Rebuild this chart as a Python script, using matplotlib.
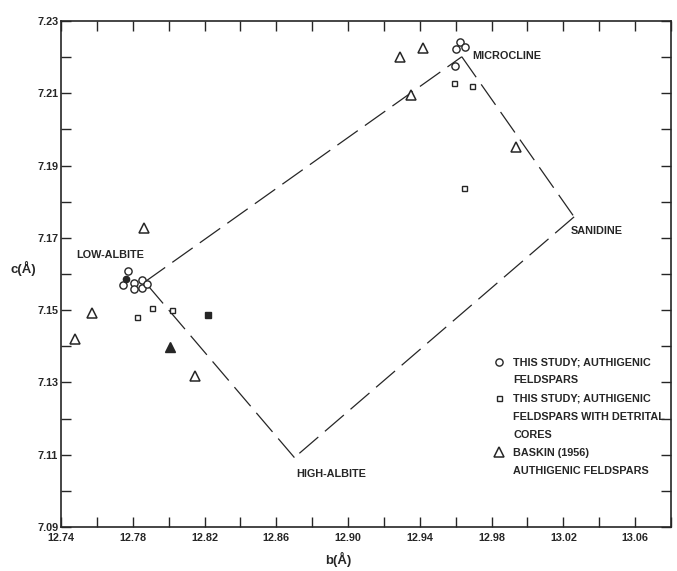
import matplotlib
matplotlib.use("Agg")
import matplotlib.pyplot as plt
from matplotlib.lines import Line2D
import numpy as np

plt.rcParams['font.family'] = ['Liberation Sans', 'DejaVu Sans']

# ---- data ----
# this study; authigenic feldspars (open circles)
circ_b = [12.7773, 12.7743, 12.7806, 12.7805, 12.7853, 12.7853, 12.7880,
          12.9626, 12.9602, 12.9652, 12.9597]
circ_c = [7.1607, 7.1570, 7.1575, 7.1559, 7.1583, 7.1560, 7.1571,
          7.2242, 7.2222, 7.2229, 7.2175]
# filled circle
fcirc_b = [12.7764]
fcirc_c = [7.1585]
# this study; authigenic feldspars with detrital cores (open squares)
sq_b = [12.7905, 12.8017, 12.7825, 12.9592, 12.9692, 12.9645]
sq_c = [7.1506, 7.1500, 7.1480, 7.2128, 7.2119, 7.1839]
# filled square
fsq_b = [12.8221]
fsq_c = [7.1487]
# Baskin (1956) authigenic feldspars (open triangles)
tri_b = [12.7864, 12.7571, 12.7479, 12.8149, 12.9292, 12.9416, 12.9350, 12.9935]
tri_c = [7.1728, 7.1492, 7.1420, 7.1319, 7.2200, 7.2226, 7.2096, 7.1951]
# filled triangle
ftri_b = [12.8005]
ftri_c = [7.1399]

# end-member quadrilateral: low-albite, microcline, sanidine, high-albite
rect_names = ['LOW-ALBITE', 'MICROCLINE', 'SANIDINE', 'HIGH-ALBITE']
rect_b = [12.7867, 12.9634, 13.0260, 12.8701]
rect_c = [7.1578, 7.2201, 7.1758, 7.1092]
# label anchors (left edge, centre line)
lab_b = [12.7485, 12.9695, 13.0243, 12.8711]
lab_c = [7.1653, 7.2203, 7.1718, 7.1046]

x_major = np.arange(12.74, 13.081, 0.04)
x_minor = np.arange(12.74, 13.081, 0.02)
y_major = np.arange(7.09, 7.2301, 0.02)
y_minor = np.arange(7.09, 7.2301, 0.01)

legend_groups = [['THIS STUDY; AUTHIGENIC', 'FELDSPARS'],
                 ['THIS STUDY; AUTHIGENIC', 'FELDSPARS WITH DETRITAL', 'CORES'],
                 ['BASKIN (1956)', 'AUTHIGENIC FELDSPARS']]

ink = '#262626'
fs = 7.8

fig = plt.figure(figsize=(6.77, 5.71), dpi=100)
ax = fig.add_axes([0.0901, 0.0771, 0.9010, 0.8862])
ax.set_xlim(12.74, 13.08)
ax.set_ylim(7.09, 7.23)

# quadrilateral (dashed), each side separately
nv = len(rect_b)
for i in range(nv):
    j = (i + 1) % nv
    ax.plot([rect_b[i], rect_b[j]], [rect_c[i], rect_c[j]],
            color=ink, lw=0.9, linestyle=(0, (20, 7)),
            dash_capstyle='butt', zorder=2)

h_c, = ax.plot(circ_b, circ_c, linestyle='none', marker='o', ms=5.2,
               mfc='white', mec=ink, mew=1.0, zorder=3)
ax.plot(fcirc_b, fcirc_c, linestyle='none', marker='o', ms=4.5,
        mfc=ink, mec=ink, zorder=4)
h_s, = ax.plot(sq_b, sq_c, linestyle='none', marker='s', ms=3.6,
               mfc='white', mec=ink, mew=1.0, zorder=3)
ax.plot(fsq_b, fsq_c, linestyle='none', marker='s', ms=4.2,
        mfc=ink, mec=ink, zorder=3)
h_t, = ax.plot(tri_b, tri_c, linestyle='none', marker='^', ms=7.0,
               mfc='white', mec=ink, mew=1.1, zorder=3)
ax.plot(ftri_b, ftri_c, linestyle='none', marker='^', ms=7.0,
        mfc=ink, mec=ink, zorder=3)

for name, b, c in zip(rect_names, lab_b, lab_c):
    ax.text(b, c, name, ha='left', va='center', fontsize=fs,
            fontweight='bold', color=ink)

# ticks
ax.set_xticks(x_major)
ax.set_xticklabels([f'{v:.2f}' for v in x_major])
ax.set_xticks(x_minor, minor=True)
ax.set_yticks(y_major)
ax.set_yticklabels([f'{v:.2f}' for v in y_major])
ax.set_yticks(y_minor, minor=True)
ax.tick_params(which='both', direction='in', top=True, right=True,
               length=7, width=1.0, color=ink)
ax.tick_params(axis='x', which='major', pad=4, labelsize=fs, labelcolor=ink)
ax.tick_params(axis='y', which='major', pad=2, labelsize=fs, labelcolor=ink)
for lab in ax.get_xticklabels() + ax.get_yticklabels():
    lab.set_fontweight('bold')
for sp in ax.spines.values():
    sp.set_linewidth(1.2)
    sp.set_color(ink)

ax.set_xlabel('b(Å)', fontsize=9.5, fontweight='bold', color=ink)
ax.xaxis.set_label_coords(0.454, -0.05)
ax.set_ylabel('c(Å)', fontsize=9.5, fontweight='bold', color=ink,
              rotation=0, va='center', ha='center')
ax.yaxis.set_label_coords(-0.062, 0.51)

# legend: one entry per printed line, symbol on the first line of each group
blank = Line2D([], [], linestyle='none', marker=None)
handles, labels = [], []
for h, lines in zip([h_c, h_s, h_t], legend_groups):
    for k, line in enumerate(lines):
        handles.append(h if k == 0 else blank)
        labels.append(line)

leg = ax.legend(handles, labels, loc='upper left',
                bbox_to_anchor=(0.7093, 0.335), frameon=False,
                borderpad=0, borderaxespad=0, handlelength=1.0,
                handletextpad=0.83, labelspacing=0.74,
                prop={'size': fs, 'weight': 'bold'})
for t in leg.get_texts():
    t.set_color(ink)

fig.savefig('out.png', dpi=100, facecolor='white')
